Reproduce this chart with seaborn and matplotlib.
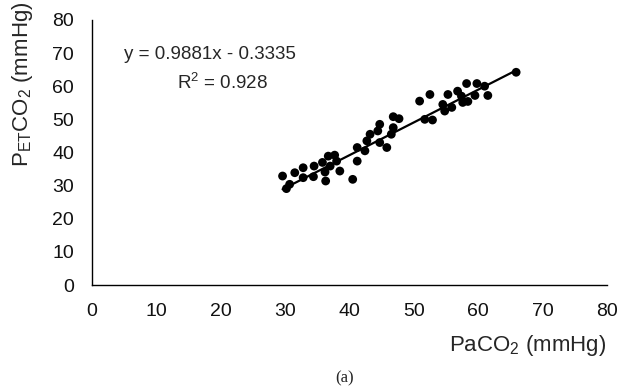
import numpy as np
import pandas as pd
import matplotlib
matplotlib.use("Agg")
import matplotlib.pyplot as plt
import seaborn as sns

# data
paco2 = [29.6, 30.2, 30.7, 31.5, 32.8, 32.8, 34.4, 34.5, 35.8, 36.3,
         36.2, 36.7, 37.0, 37.7, 38.0, 38.5, 40.5, 41.2, 41.2, 42.4,
         42.7, 43.2, 44.4, 44.7, 44.7, 45.8, 46.5, 46.8, 46.8, 47.7,
         50.9, 51.7, 52.9, 52.5, 54.5, 54.8, 55.3, 55.9, 56.8, 57.4,
         57.6, 58.2, 58.4, 59.5, 59.8, 61.0, 61.5, 65.9]
petco2 = [32.9, 29.1, 30.4, 33.9, 35.4, 32.4, 32.7, 35.9, 37.0, 31.4,
          34.1, 38.9, 35.9, 39.2, 37.4, 34.4, 31.9, 37.4, 41.5, 40.5,
          43.5, 45.5, 46.5, 48.5, 43.0, 41.5, 45.5, 47.5, 50.8, 50.2,
          55.5, 50.0, 49.8, 57.5, 54.5, 52.5, 57.5, 53.6, 58.5, 57.0,
          55.1, 60.8, 55.4, 57.2, 60.8, 60.0, 57.2, 64.2]
slope = 0.9881
intercept = -0.3335
r2 = 0.928

df = pd.DataFrame({"PaCO2": paco2, "PETCO2": petco2})

sns.set_style("white")
plt.rcParams["font.family"] = ["Liberation Sans", "DejaVu Sans"]
plt.rcParams["mathtext.fontset"] = "custom"
plt.rcParams["mathtext.rm"] = "Liberation Sans"
plt.rcParams["mathtext.it"] = "Liberation Sans:italic"

fig = plt.figure(figsize=(6.18, 3.90), dpi=100)
ax = fig.add_axes([0.149, 0.269, 0.833, 0.680])

sns.scatterplot(data=df, x="PaCO2", y="PETCO2", color="black", s=40,
                edgecolor="none", ax=ax, legend=False)

# trend line from the fitted equation
xl = np.array([min(paco2), max(paco2)])
sns.lineplot(x=xl, y=slope * xl + intercept, color="black", linewidth=1.6, ax=ax)

ax.set_xlim(0, 80)
ax.set_ylim(0, 80)
ax.set_xticks(range(0, 81, 10))
ax.set_yticks(range(0, 81, 10))
ax.tick_params(axis="x", direction="in", length=4, width=0.8, labelsize=14, pad=13, colors="black")
ax.tick_params(axis="y", direction="out", length=4, width=0.8, labelsize=14, pad=9, colors="black")
ax.tick_params(axis="both", labelcolor="#111111")
for side in ["top", "right"]:
    ax.spines[side].set_visible(False)
for side in ["left", "bottom"]:
    ax.spines[side].set_color("black")
    ax.spines[side].set_linewidth(1.0)

ax.set_xlabel("")
ax.set_ylabel("")
fig.text(0.037, 0.785, r"P$_{\mathregular{ET}}$CO$_2$ (mmHg)", fontsize=16,
         rotation=90, ha="center", va="center")
fig.text(0.854, 0.115, r"PaCO$_2$ (mmHg)", fontsize=16, ha="center", va="center")

ax.text(18.3, 69.5, f"y = {slope}x - {abs(intercept)}", fontsize=13.5, ha="center", va="center")
ax.text(20.2, 61, r"R$^2$ = " + f"{r2}", fontsize=13.5, ha="center", va="center")

fig.text(0.558, 0.03, "(a)", fontsize=12, family="Liberation Serif", ha="center", va="center")

fig.savefig("out.png", dpi=100)
